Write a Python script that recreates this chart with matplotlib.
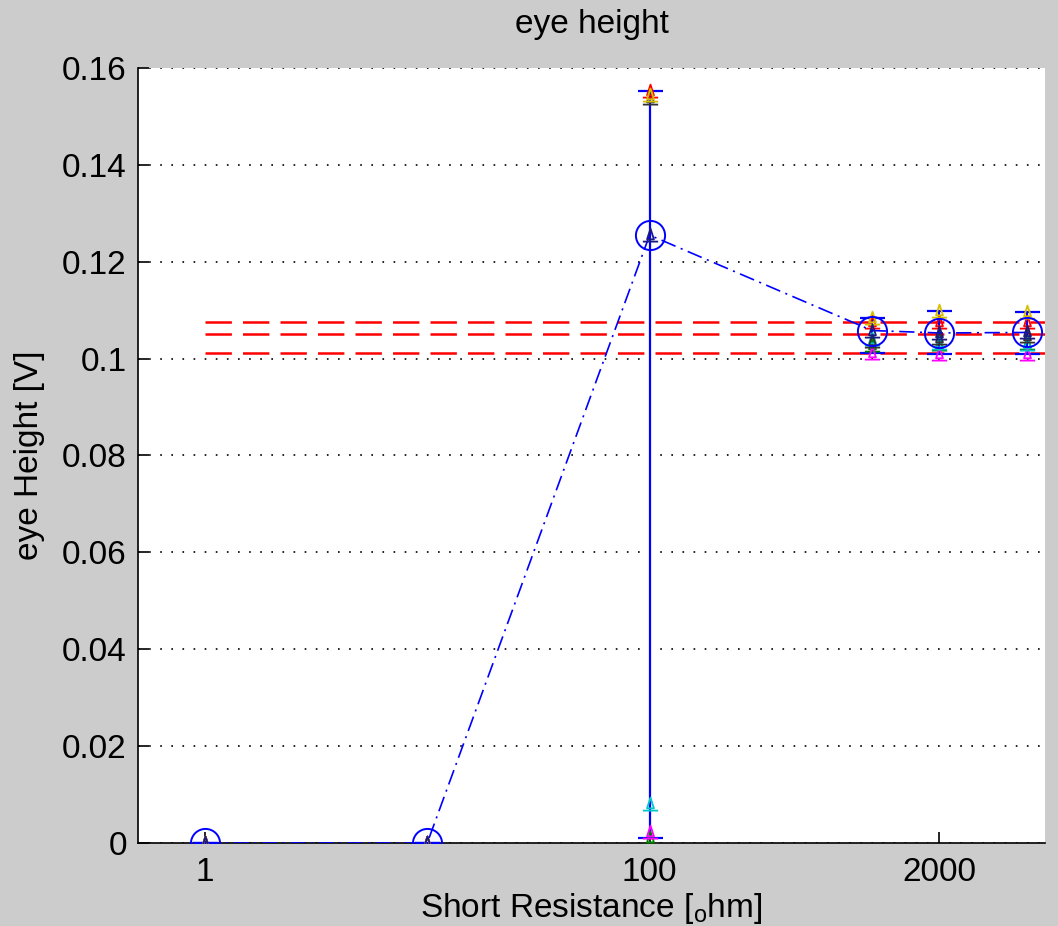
import numpy as np
import matplotlib
matplotlib.use("Agg")
import matplotlib.pyplot as plt
from matplotlib.path import Path

# Short resistance sweep [ohm]
resistance = [1, 10, 100, 1000, 2000, 5000]

# Eye height per corner [V]
corner_yellow = [0.0, 0.0, 0.1545, 0.1084, 0.1098, 0.1097]
corner_red = [0.0, 0.0, 0.1553, 0.1076, 0.1076, 0.1076]
corner_black = [0.0, 0.0, 0.1538, 0.1036, 0.1042, 0.1046]
corner_cyan = [0.0, 0.0, 0.0080, 0.1040, 0.1032, 0.1030]
corner_magenta = [0.0, 0.0, 0.0022, 0.1012, 0.1010, 0.1010]
corner_green = [0.0, 0.0, 0.0010, 0.1028, 0.1030, 0.1032]

# Mean eye height
mean_height = [0.0, 0.0, 0.1255, 0.1058, 0.1053, 0.1054]

# Reference levels
ref_levels = [0.1076, 0.1051, 0.1012]

x_ticks = [1, 100, 2000]
x_tick_labels = ["1", "100", "2000"]
y_ticks = [0, 0.02, 0.04, 0.06, 0.08, 0.10, 0.12, 0.14, 0.16]
y_tick_labels = ["0", "0.02", "0.04", "0.06", "0.08", "0.1", "0.12", "0.14", "0.16"]
XLIM = (0.5, 6000)
YLIM = (0, 0.16)

plt.rcParams["font.family"] = ["Liberation Sans", "DejaVu Sans"]
plt.rcParams["lines.scale_dashes"] = False

BG = "#cccccc"
FS = 24
fig = plt.figure(figsize=(10.58, 9.26), dpi=100, facecolor=BG)
ax = fig.add_axes([0.1304, 0.0896, 0.8573, 0.837])
ax.set_facecolor("white")

# triangle sitting on a cap bar
tri_marker = Path(
    [(0, 0.9), (-0.45, -0.5), (0.45, -0.5), (0, 0.9), (-1, -0.8), (1, -0.8)],
    [Path.MOVETO, Path.LINETO, Path.LINETO, Path.CLOSEPOLY, Path.MOVETO, Path.LINETO],
)

corners = [
    (corner_green, "#008000"),
    (corner_magenta, "#ff00ff"),
    (corner_cyan, "#00c8c8"),
    (corner_black, "#333333"),
    (corner_red, "#ff0000"),
    (corner_yellow, "#d4c000"),
]

# reference levels
for lvl in ref_levels:
    ax.hlines(lvl, resistance[0], XLIM[1], colors="#ff0000", linewidth=1.8,
              linestyles=(0, (19, 8)), zorder=2)

# min/max spread over corners
stack = np.array([c for c, _ in corners])
lo = stack.min(axis=0)
hi = stack.max(axis=0)
mean_arr = np.array(mean_height)
ax.errorbar(resistance, mean_arr, yerr=[mean_arr - lo, hi - mean_arr], fmt="none",
            ecolor="#0000ff", elinewidth=1.6, capsize=9, capthick=1.6, zorder=3)

for vals, col in corners:
    ax.plot(resistance, vals, linestyle="none", marker=tri_marker, markersize=11,
            markerfacecolor="none", markeredgecolor=col, markeredgewidth=1.3, zorder=4)

# mean trace
ax.plot(resistance, mean_height, color="#0000ff", linewidth=1.2,
        linestyle=(0, (11, 4, 1.5, 4)), marker="o", markersize=21,
        markerfacecolor="none", markeredgecolor="#0000ff", markeredgewidth=1.4, zorder=5)
ax.plot(resistance, mean_height, linestyle="none", marker=tri_marker, markersize=11,
        markerfacecolor="none", markeredgecolor="#1a1a80", markeredgewidth=1.3, zorder=5)

ax.set_xscale("log")
ax.set_xlim(*XLIM)
ax.set_ylim(*YLIM)
ax.set_xticks(x_ticks)
ax.set_xticklabels(x_tick_labels)
ax.xaxis.set_minor_locator(matplotlib.ticker.NullLocator())
ax.set_yticks(y_ticks)
ax.set_yticklabels(y_tick_labels)

ax.yaxis.grid(True, color="black", linestyle=(0, (1.2, 6.8)), linewidth=1.2)
ax.set_axisbelow(True)
ax.spines["top"].set_visible(False)
ax.spines["right"].set_visible(False)
for s in ("left", "bottom"):
    ax.spines[s].set_linewidth(1.2)
ax.tick_params(direction="in", length=8, width=1.2, labelsize=FS,
               top=False, right=False)
ax.tick_params(axis="x", pad=10)
ax.tick_params(axis="y", pad=8)

ax.set_title("eye height", fontsize=FS, pad=25)
ax.set_xlabel(r"Short Resistance [$\mathregular{_o}$hm]", fontsize=FS, labelpad=2)
ax.set_ylabel("eye Height [V]", fontsize=FS, labelpad=12)

fig.savefig("out.png", dpi=100, facecolor=BG)
